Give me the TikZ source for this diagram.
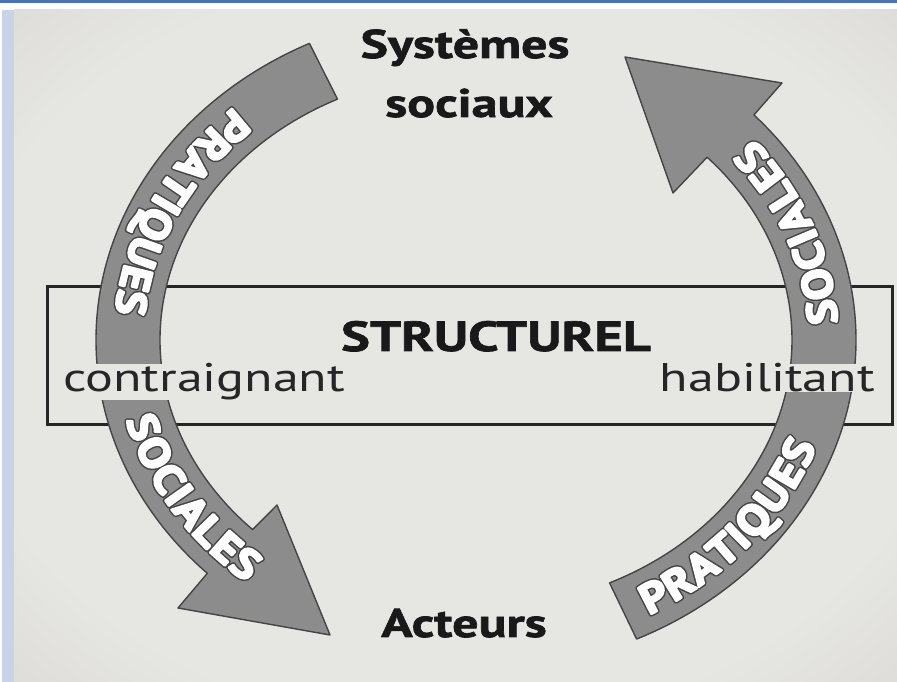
\documentclass[tikz,border=0pt]{standalone}
\usepackage{fontspec}
\setmainfont{PT Sans}[FakeStretch=1.3]
\newfontfamily\arcfont{PT Sans Bold}[FakeStretch=1.12]
\newfontfamily\titlefont{PT Sans Bold}[FakeStretch=1.3, FakeBold=1.6]
\usepackage{xcolor}
\usetikzlibrary{decorations.text}

\definecolor{paper}{HTML}{E6E6E2}
\definecolor{paperedge}{HTML}{D0CECC}
\definecolor{frameblue}{HTML}{4A70B8}
\definecolor{stripblue}{HTML}{C9D3E7}
\definecolor{boxfill}{HTML}{E6E6E3}
\definecolor{bandgray}{HTML}{8C8C8C}
\definecolor{bandline}{HTML}{454545}

\pgfdeclareradialshading{vignette}{\pgfpoint{0bp}{0bp}}{color(0bp)=(paper); color(28bp)=(paper); color(48bp)=(paperedge); color(50bp)=(paperedge)}

% outlined white letters: a fat dark copy under a fat white copy
\newcommand\arcback{\arcfont\fontsize{42}{42}\selectfont\color{bandline}\special{pdf:literal direct 0.27 0.27 0.27 RG 5.2 w 1 j 2 Tr}}
\newcommand\arcfront{\arcfont\fontsize{42}{42}\selectfont\color{white}\special{pdf:literal direct 1 1 1 RG 2.2 w 1 j 2 Tr}}

\tikzset{
    title/.style={font=\titlefont\fontsize{40}{40}\selectfont, text=black!90, inner sep=0pt},
    pole/.style={font=\fontsize{40}{40}\selectfont, text=black!85, fill=boxfill, inner sep=0pt},
    band/.style={fill=bandgray, draw=bandline, line width=1.4pt, line join=round},
    arclabel/.style 2 args={decorate, decoration={text along path, text={|#1|#2}, text align=center, raise=-14pt}}
}

\begin{document}
\begin{tikzpicture}[x=1pt, y=1pt]
                            % Frame of the screenshot
                            \useasboundingbox (0,0) rectangle (897,682);
                            \fill[white] (0,0) rectangle (897,682);
                            \fill[frameblue] (0,679) rectangle (897,682);
                            \fill[stripblue] (2,0) rectangle (14,672);
                            \shade[shading=vignette] (14,0) rectangle (897,672);

                            % Box
                            \draw[line width=3pt, black!85] (47,257) rectangle (892,395);

                            % Arrows
                            \filldraw[band, shift={(476,342)}] (116:380 and 330)
                            arc[start angle=116, end angle=225, x radius=380, y radius=330]
                            -- (-298,-268) -- (-146,-295) -- (-199,-165)
                            -- (225:316 and 268)
                            arc[start angle=225, end angle=116, x radius=316, y radius=268] -- cycle;

                            \filldraw[band, shift={(476,342)}] (-65:380 and 330)
                            arc[start angle=-65, end angle=43, x radius=380, y radius=330]
                            -- (306,257) -- (149,283) -- (197,147)
                            -- (43:316 and 268)
                            arc[start angle=43, end angle=-65, x radius=316, y radius=268] -- cycle;

                            % Arrow texts
                            \foreach \lettering in {\arcback,\arcfront}{
                            \path[arclabel={\lettering}{PRATIQUES}, shift={(476,342)}] (124:348 and 299)
                            arc[start angle=124, end angle=184, x radius=348, y radius=299];
                            \path[arclabel={\lettering}{SOCIALES}, shift={(476,342)}] (182:348 and 299)
                            arc[start angle=182, end angle=242, x radius=348, y radius=299];
                            \path[arclabel={\lettering}{PRATIQUES}, shift={(476,342)}] (-70:348 and 299)
                            arc[start angle=-70, end angle=-10, x radius=348, y radius=299];
                            \path[arclabel={\lettering}{SOCIALES}, shift={(476,342)}] (-9:348 and 299)
                            arc[start angle=-9, end angle=51, x radius=348, y radius=299];
                            }

                            % Labels
                            \node[title, anchor=base] (sys) at (465,624) {Systèmes};
                            \node[title, anchor=base] (soc) at (469,565) {sociaux};
                            \node[title, anchor=base] (act) at (464,45) {Acteurs};
                            \node[title, anchor=base, font=\titlefont\fontsize{42}{42}\selectfont] (struct) at (496,331) {STRUCTUREL};
                            \node[pole, anchor=base west] (contr) at (63,290) {contraignant};
                            \node[pole, anchor=base east] (habil) at (875,290) {habilitant};
\end{tikzpicture}
\end{document}
